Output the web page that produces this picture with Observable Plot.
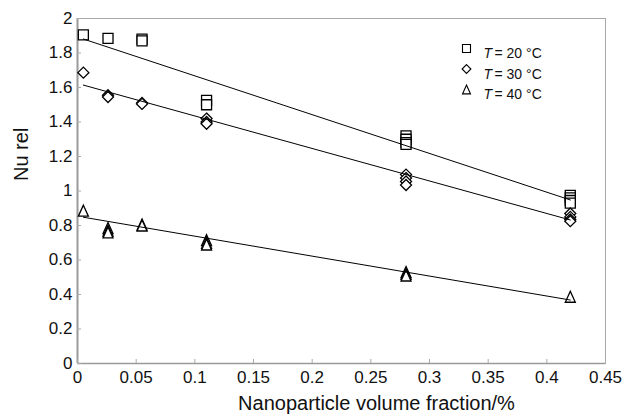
<!DOCTYPE html>
<html>
<head>
<meta charset="utf-8">
<script src="https://cdn.jsdelivr.net/npm/d3@7"></script>
<script src="https://cdn.jsdelivr.net/npm/@observablehq/plot@0.6"></script>
<style>
  html, body { margin: 0; padding: 0; background: #fff; }
  #chart { width: 630px; height: 419px; }
</style>
</head>
<body>
<div id="chart"></div>
<script>
// ---- data ----
const xTicks = [0, 0.05, 0.1, 0.15, 0.2, 0.25, 0.3, 0.35, 0.4, 0.45];
const yTicks = [0, 0.2, 0.4, 0.6, 0.8, 1, 1.2, 1.4, 1.6, 1.8, 2];

const seriesLabels = ["= 20 °C", "= 30 °C", "= 40 °C"];

// T = 20 °C (squares)
const phi20 = [0.005, 0.026, 0.055, 0.055, 0.11, 0.11, 0.28, 0.28, 0.28, 0.28, 0.42, 0.42, 0.42, 0.42];
const nu20  = [1.905, 1.885, 1.88, 1.87, 1.525, 1.50, 1.32, 1.30, 1.28, 1.27, 0.975, 0.96, 0.945, 0.93];
// T = 30 °C (diamonds)
const phi30 = [0.005, 0.026, 0.026, 0.055, 0.055, 0.11, 0.11, 0.11, 0.28, 0.28, 0.28, 0.28, 0.42, 0.42, 0.42, 0.42];
const nu30  = [1.686, 1.555, 1.545, 1.51, 1.505, 1.42, 1.40, 1.39, 1.095, 1.075, 1.055, 1.035, 0.87, 0.85, 0.835, 0.825];
// T = 40 °C (triangles)
const phi40 = [0.005, 0.026, 0.026, 0.026, 0.055, 0.055, 0.11, 0.11, 0.11, 0.28, 0.28, 0.28, 0.42];
const nu40  = [0.886, 0.785, 0.77, 0.76, 0.805, 0.80, 0.715, 0.70, 0.69, 0.53, 0.52, 0.51, 0.387];

// linear trend lines (end points)
const fitPhi = [0.005, 0.42];
const fit20 = [1.881, 0.948];
const fit30 = [1.614, 0.832];
const fit40 = [0.848, 0.368];

// ---- build tables ----
const pts = (xs, ys) => xs.map((x, i) => ({x, y: ys[i]}));
const d20 = pts(phi20, nu20), d30 = pts(phi30, nu30), d40 = pts(phi40, nu40);
const f20 = pts(fitPhi, fit20), f30 = pts(fitPhi, fit30), f40 = pts(fitPhi, fit40);

// ---- custom symbols ----
const rOf = size => Math.sqrt(size / Math.PI);
const symSquare = {draw(c, size) { const r = rOf(size); c.moveTo(-r, -r); c.lineTo(r, -r); c.lineTo(r, r); c.lineTo(-r, r); c.closePath(); }};
const symDiamond = {draw(c, size) { const r = rOf(size) * 1.1; c.moveTo(0, -r); c.lineTo(r, 0); c.lineTo(0, r); c.lineTo(-r, 0); c.closePath(); }};
const symTriangle = {draw(c, size) { const r = rOf(size); const h = r * 1.1; c.moveTo(0, -h); c.lineTo(r, h); c.lineTo(-r, h); c.closePath(); }};
const symbols = [symSquare, symDiamond, symTriangle];

const fmt = d => String(+d.toFixed(2));
const dotOpts = {x: "x", y: "y", r: 5, fill: "white", stroke: "black", strokeWidth: 1.3};

const legendMarks = [];
seriesLabels.forEach((lab, i) => {
  const dy = 30 + i * 20.5;
  legendMarks.push(Plot.dot([lab], {frameAnchor: "top-left", dx: 389, dy, r: 4, symbol: symbols[i], fill: "white", stroke: "black", strokeWidth: 1.1}));
  legendMarks.push(Plot.text([lab], {frameAnchor: "top-left", dx: 406, dy, text: () => "T", fontStyle: "italic", fontSize: 14, textAnchor: "start", fill: "#111"}));
  legendMarks.push(Plot.text([lab], {frameAnchor: "top-left", dx: 417, dy, text: d => d, fontSize: 14, textAnchor: "start", fill: "#111"}));
});

const chart = Plot.plot({
  width: 630,
  height: 419,
  marginLeft: 77,
  marginRight: 25,
  marginTop: 18,
  marginBottom: 56,
  x: {domain: [0, 0.45]},
  y: {domain: [0, 2]},
  style: {fontFamily: "'Liberation Sans', Arial, Helvetica, sans-serif", background: "white", color: "#111"},
  marks: [
    Plot.frame({stroke: "#a8a8a8", strokeWidth: 1}),
    Plot.ruleX([0], {stroke: "#9a9a9a", strokeWidth: 2}),
    Plot.ruleY([0], {stroke: "#9a9a9a", strokeWidth: 1.5}),
    Plot.axisX({ticks: xTicks, tickFormat: fmt, tickSize: -4, tickPadding: 11, stroke: "#aaa", fill: "#111", fontSize: 17, label: null}),
    Plot.axisY({ticks: yTicks, tickFormat: fmt, tickSize: -4, tickPadding: 9, stroke: "#aaa", fill: "#111", fontSize: 17, label: null}),
    Plot.text(["Nanoparticle volume fraction/%"], {frameAnchor: "bottom", dx: 35, dy: 40, text: d => d, fontSize: 20, lineAnchor: "middle", fill: "#111"}),
    Plot.text(["Nu rel"], {frameAnchor: "left", dx: -56, dy: -10, rotate: -90, text: d => d, fontSize: 20, lineAnchor: "middle", fill: "#111"}),
    Plot.dot(d20, {...dotOpts, symbol: symSquare}),
    Plot.dot(d30, {...dotOpts, symbol: symDiamond}),
    Plot.dot(d40, {...dotOpts, symbol: symTriangle}),
    Plot.line(f20, {x: "x", y: "y", stroke: "black", strokeWidth: 1}),
    Plot.line(f30, {x: "x", y: "y", stroke: "black", strokeWidth: 1}),
    Plot.line(f40, {x: "x", y: "y", stroke: "black", strokeWidth: 1}),
    ...legendMarks
  ]
});
document.getElementById("chart").appendChild(chart);
</script>
</body>
</html>
